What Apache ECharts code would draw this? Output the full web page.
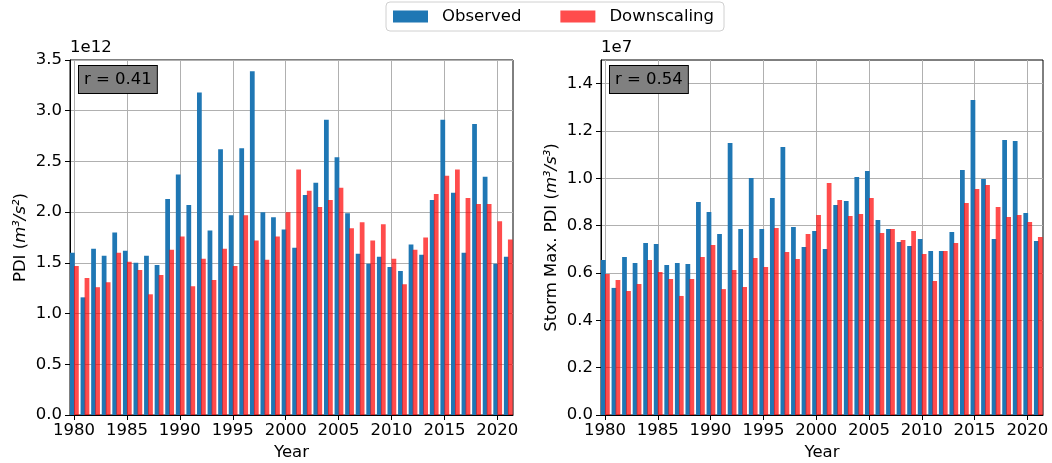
<!DOCTYPE html>
<html>
<head>
<meta charset="utf-8">
<script src="https://cdn.jsdelivr.net/npm/echarts@6/dist/echarts.min.js"></script>
<style>html,body{margin:0;padding:0;background:#fff;}#c{width:1052px;height:463px;}</style>
</head>
<body>
<div id="c"></div>
<script>
const years = [];
for (let y = 1980; y <= 2021; y++) years.push(y);
const xTicks = [1980, 1985, 1990, 1995, 2000, 2005, 2010, 2015, 2020];
const pdiTicks = [0, 0.5, 1.0, 1.5, 2.0, 2.5, 3.0, 3.5];
const maxTicks = [0, 0.2, 0.4, 0.6, 0.8, 1.0, 1.2, 1.4];

// PDI (x 1e12)
const pdiObserved = [1.60,1.16,1.64,1.57,1.80,1.62,1.50,1.57,1.48,2.13,2.37,2.07,3.18,1.82,2.62,1.97,2.63,3.39,2.00,1.95,1.83,
  1.65,2.17,2.29,2.91,2.54,1.99,1.59,1.49,1.56,1.46,1.42,1.68,1.58,2.12,2.91,2.19,1.60,2.87,2.35,1.49,1.56];
const pdiDownscaling = [1.47,1.35,1.26,1.31,1.60,1.51,1.43,1.19,1.38,1.63,1.76,1.27,1.54,1.33,1.64,1.47,1.97,1.72,1.53,1.76,2.00,
  2.42,2.21,2.05,2.12,2.24,1.84,1.90,1.72,1.88,1.54,1.29,1.63,1.75,2.18,2.36,2.42,2.14,2.08,2.08,1.91,1.73];
// Storm max PDI (x 1e7)
const maxObserved = [0.655,0.537,0.668,0.642,0.727,0.723,0.634,0.642,0.638,0.900,0.858,0.765,1.149,0.786,1.001,0.786,0.917,1.132,0.794,0.710,0.777,
  0.701,0.887,0.904,1.006,1.031,0.824,0.786,0.731,0.714,0.744,0.693,0.693,0.773,1.035,1.331,0.997,0.744,1.162,1.158,0.854,0.735];
const maxDownscaling = [0.596,0.570,0.524,0.554,0.655,0.604,0.575,0.503,0.575,0.668,0.718,0.532,0.613,0.541,0.663,0.625,0.790,0.689,0.659,0.765,0.845,
  0.980,0.908,0.841,0.849,0.917,0.769,0.786,0.739,0.777,0.680,0.566,0.693,0.727,0.896,0.955,0.972,0.879,0.837,0.845,0.815,0.752];

const BLUE = '#1f77b4';
const RED = 'rgba(255,0,0,0.7)';
const FONT = 'DejaVu Sans';
const FS = 16.5;
const TXT = '#000';

function render(offset, width) {
  return function (params, api) {
    const x = api.value(0), v = api.value(1);
    const p0 = api.coord([x + offset - width / 2, v]);
    const p1 = api.coord([x + offset + width / 2, 0]);
    return { type: 'rect', shape: { x: p0[0], y: p0[1], width: p1[0] - p0[0], height: p1[1] - p0[1] }, style: api.style() };
  };
}
function pairs(vals) { return years.map((y, i) => [y, vals[i]]); }

function xAxis(gi) {
  return {
    type: 'value', gridIndex: gi, min: 1979.62, max: 2021.48,
    name: 'Year', nameLocation: 'middle', nameGap: 28,
    nameTextStyle: { fontFamily: FONT, fontSize: FS, color: TXT },
    axisLine: { show: true, onZero: false, lineStyle: { color: '#000', width: 1 } },
    axisTick: { show: true, length: 5, customValues: xTicks, lineStyle: { color: '#000' } },
    axisLabel: { customValues: xTicks, fontFamily: FONT, fontSize: FS, color: TXT, margin: 7, formatter: v => String(v) },
    splitLine: { show: true, lineStyle: { color: '#b0b0b0', width: 1 } }
  };
}
function yAxis(gi, max, ticks, name, dec) {
  return {
    type: 'value', gridIndex: gi, min: 0, max: max,
    name: name, nameLocation: 'middle', nameGap: 41, nameRotate: 90,
    nameTextStyle: { fontFamily: FONT, fontSize: FS, color: TXT,
      rich: { n: { fontFamily: FONT, fontSize: FS, color: TXT }, i: { fontFamily: FONT, fontSize: FS, color: TXT, fontStyle: 'italic' } } },
    axisLine: { show: true, lineStyle: { color: '#000', width: 1 } },
    axisTick: { show: true, length: 5, customValues: ticks, lineStyle: { color: '#000' } },
    axisLabel: { customValues: ticks, fontFamily: FONT, fontSize: FS, color: TXT, margin: 8, formatter: v => v.toFixed(dec) },
    splitLine: { show: true, lineStyle: { color: '#b0b0b0', width: 1 } }
  };
}

const chart = echarts.init(document.getElementById('c'), null, { renderer: 'canvas' });
chart.setOption({
  animation: false,
  backgroundColor: '#fff',
  legend: {
    top: 2, left: 386, data: ['Observed', 'Downscaling'],
    icon: 'rect', itemWidth: 35, itemHeight: 12, itemGap: 39,
    padding: [6, 10, 6, 7],
    borderColor: '#d0d0d0', borderWidth: 1, borderRadius: 4,
    textStyle: { fontFamily: FONT, fontSize: FS, color: TXT, padding: [0, 0, 0, 9] }
  },
  grid: [
    { left: 70, top: 60, width: 443, height: 355, outerBoundsMode: 'none', containLabel: false, show: true, borderColor: '#000', borderWidth: 1, backgroundColor: 'transparent' },
    { left: 601, top: 60, width: 442, height: 355, outerBoundsMode: 'none', containLabel: false, show: true, borderColor: '#000', borderWidth: 1, backgroundColor: 'transparent' }
  ],
  xAxis: [xAxis(0), xAxis(1)],
  yAxis: [
    yAxis(0, 3.5, pdiTicks, '{n|PDI (}{i|m³/s²}{n|)}', 1),
    yAxis(1, 1.5, maxTicks, '{n|Storm Max. PDI (}{i|m³/s³}{n|)}', 1)
  ],
  series: [
    { name: 'Observed', type: 'custom', xAxisIndex: 0, yAxisIndex: 0, clip: true, itemStyle: { color: BLUE }, renderItem: render(-0.155, 0.45), data: pairs(pdiObserved) },
    { name: 'Downscaling', type: 'custom', xAxisIndex: 0, yAxisIndex: 0, clip: true, itemStyle: { color: RED }, renderItem: render(0.225, 0.45), data: pairs(pdiDownscaling) },
    { name: 'Observed', type: 'custom', xAxisIndex: 1, yAxisIndex: 1, clip: true, itemStyle: { color: BLUE }, renderItem: render(-0.155, 0.45), data: pairs(maxObserved) },
    { name: 'Downscaling', type: 'custom', xAxisIndex: 1, yAxisIndex: 1, clip: true, itemStyle: { color: RED }, renderItem: render(0.225, 0.45), data: pairs(maxDownscaling) }
  ],
  graphic: [
    { type: 'text', left: 70, top: 39, style: { text: '1e12', font: FS + 'px "DejaVu Sans"', fill: TXT } },
    { type: 'text', left: 601, top: 39, style: { text: '1e7', font: FS + 'px "DejaVu Sans"', fill: TXT } },
    { type: 'text', left: 78, top: 65, z: 100, style: { text: 'r = 0.41', font: FS + 'px "DejaVu Sans"', fill: TXT, backgroundColor: '#808080', borderColor: '#000', borderWidth: 1, padding: [5, 5, 5, 5] } },
    { type: 'text', left: 609, top: 65, z: 100, style: { text: 'r = 0.54', font: FS + 'px "DejaVu Sans"', fill: TXT, backgroundColor: '#808080', borderColor: '#000', borderWidth: 1, padding: [5, 5, 5, 5] } }
  ]
});
</script>
</body>
</html>
